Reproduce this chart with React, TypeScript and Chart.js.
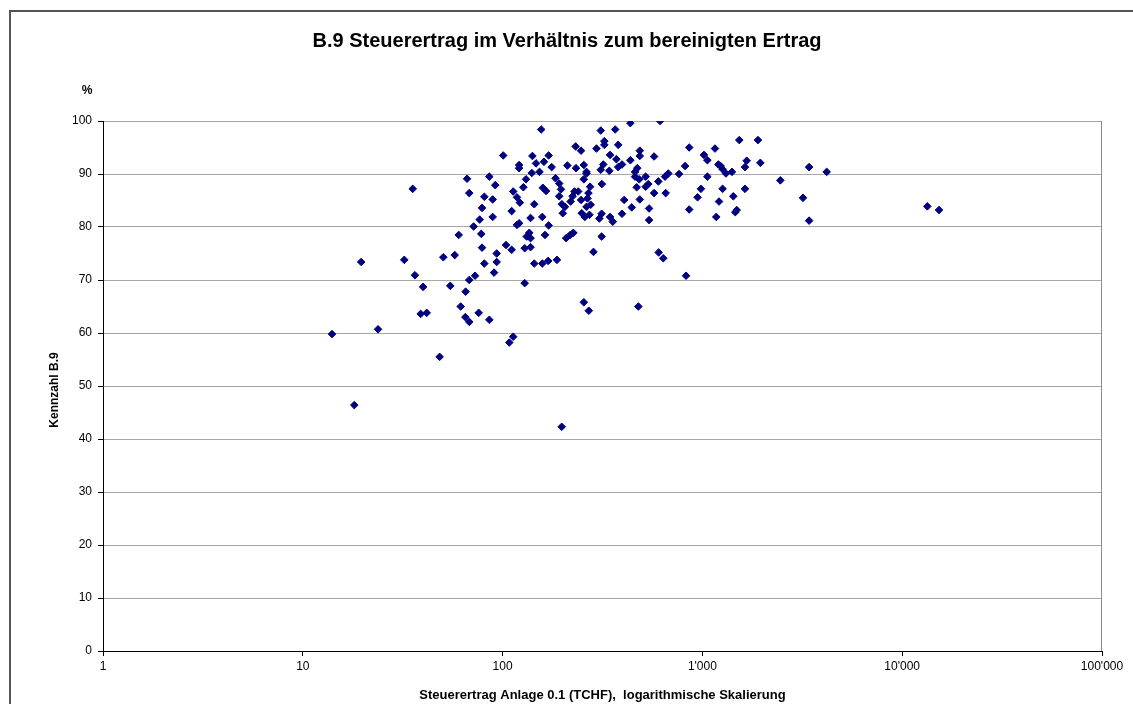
import React, { useEffect, useRef } from 'react';
import { Chart, registerables } from 'chart.js';

Chart.register(...registerables);

const titleText = 'B.9 Steuerertrag im Verhältnis zum bereinigten Ertrag';
const xAxisTitle = 'Steuerertrag Anlage 0.1 (TCHF),  logarithmische Skalierung';
const yAxisTitle = 'Kennzahl B.9';
const yUnit = '%';

const xTickValues = [1, 10, 100, 1000, 10000, 100000];
const xTickLabels = ['1', '10', '100', "1'000", "10'000", "100'000"];

// Steuerertrag (TCHF)
const xValues = [
  100.7, 66.4, 85.8, 91.9, 35.5, 68.1, 81, 89.2, 78.9, 89.2, 76.8, 71.6, 60.3, 78.2, 78.9, 50.5,
  57.6, 32.2, 19.6, 93.4, 81, 93.4, 90.6, 36.4, 72.8, 68.1, 40, 54.7, 65.3, 61.7, 38.9, 41.7,
  75.9, 65.1, 68.1, 85.8, 14.0, 23.8, 48.4, 18.1, 197.6,
  156, 310, 366, 436, 614, 323, 323, 379, 232, 247, 295, 486, 486, 573, 859, 1018, 1059, 1156,
  141, 170, 121, 121, 147, 161, 176, 140, 153, 211, 233, 255, 263, 310, 319, 342, 345, 371,
  379, 396, 436, 460, 472, 460, 483, 520, 469, 520, 536, 602, 650, 675, 764, 819, 573, 655,
  486, 406, 443, 541, 541, 396, 946, 983, 1059, 859, 1173, 604, 637, 828, 478,
  113, 118, 122, 111, 127, 131, 144, 138, 158, 170, 118, 121, 159, 165, 184, 192, 196, 192,
  198, 205, 200, 219, 224, 229, 239, 247, 255, 263, 274, 269, 266, 263, 276, 249, 258, 272,
  305, 313, 314, 345, 356, 313, 285, 255, 270, 104, 111, 129, 132, 136, 138, 138, 163, 144,
  158, 169, 187, 208, 218, 226, 129, 113, 108,
  1530, 1897, 1202, 1234, 1262, 1312, 1406, 1633, 1666, 1950, 1262, 1633, 1211, 1428, 1485,
  1461, 2455, 3420, 4190, 3187, 3420, 13360, 15290,
];

// Kennzahl B.9 (%)
const yValues = [
  93.5, 89.1, 89.5, 87.9, 87.2, 86.4, 85.7, 85.2, 83.6, 81.9, 81.4, 80.1, 78.5, 78.7, 76.1, 74.3,
  74.7, 73.8, 73.4, 75.0, 73.1, 73.4, 71.4, 70.9, 70.8, 70.0, 68.7, 68.9, 67.8, 65.0, 63.6, 63.8,
  63.8, 63.0, 62.1, 62.5, 59.8, 60.7, 55.5, 46.4, 42.3,
  98.4, 98.2, 98.4, 99.6, 100, 96.2, 95.5, 95.5, 95.2, 94.4, 94.8, 94.4, 93.4, 93.3, 95.0, 93.6, 92.6, 94.8,
  93.4, 93.5, 91.7, 91.1, 92.0, 92.3, 91.3, 90.2, 90.4, 91.6, 91.1, 91.7, 90.4, 90.8, 91.8, 90.6, 93.6, 92.8,
  91.3, 91.8, 92.6, 90.4, 91.1, 89.5, 89.0, 89.5, 87.5, 87.6, 88.1, 88.6, 89.5, 90.1, 90.0, 91.5, 86.4, 86.4,
  85.2, 85.1, 83.7, 83.5, 81.3, 82.5, 85.6, 87.2, 89.5, 83.3, 81.9, 75.2, 74.1, 70.8, 65.0,
  86.7, 85.6, 84.6, 83.0, 87.5, 89.0, 84.3, 81.7, 81.9, 80.3, 80.4, 80.7, 87.4, 86.8, 89.2, 88.2, 87.1, 85.8,
  84.3, 83.8, 82.6, 84.8, 85.8, 86.7, 86.7, 85.1, 89.0, 90.1, 87.6, 86.4, 85.4, 83.8, 84.2, 82.6, 81.9, 82.3,
  81.6, 82.5, 88.1, 81.9, 81.0, 78.2, 75.3, 65.8, 64.2, 76.6, 75.7, 76.0, 78.2, 78.9, 77.9, 76.2, 78.5, 73.1,
  73.1, 73.6, 73.8, 77.9, 78.5, 78.9, 69.4, 59.3, 58.2,
  96.4, 96.4, 91.8, 91.5, 90.9, 90.1, 90.4, 91.3, 92.5, 92.1, 87.2, 87.2, 84.8, 85.8, 83.2,
  82.8, 88.8, 91.3, 90.4, 85.5, 81.2, 83.9, 83.2,
];

const FONT = "'Liberation Sans', Arial, Helvetica, sans-serif";

export default function App() {
  const ref = useRef<HTMLCanvasElement>(null);

  useEffect(() => {
    if (!ref.current) return;
    const textPlugin = {
      id: 'extraTexts',
      beforeDatasetsDraw(chart: any) {
        const { ctx, chartArea } = chart;
        ctx.save();
        ctx.strokeStyle = '#8c8c8c';
        ctx.lineWidth = 1;
        ctx.beginPath();
        ctx.moveTo(Math.round(chartArea.right) - 0.5, chartArea.top);
        ctx.lineTo(Math.round(chartArea.right) - 0.5, chartArea.bottom);
        ctx.stroke();
        ctx.restore();
      },
      afterDraw(chart: any) {
        const { ctx } = chart;
        ctx.save();
        ctx.fillStyle = '#000';
        ctx.textAlign = 'center';
        ctx.textBaseline = 'middle';
        ctx.font = `bold 20px ${FONT}`;
        ctx.fillText(titleText, 567, 41);
        ctx.font = `bold 12px ${FONT}`;
        ctx.fillText(yUnit, 87, 91);
        ctx.translate(55, 390);
        ctx.rotate(-Math.PI / 2);
        ctx.fillText(yAxisTitle, 0, 0);
        ctx.restore();
      },
    };

    const chart = new Chart(ref.current, {
      type: 'scatter',
      data: {
        datasets: [
          {
            label: yAxisTitle,
            data: xValues.map((x, i) => ({ x, y: yValues[i] })),
            pointStyle: 'rectRot',
            pointRadius: 3.8,
            pointHoverRadius: 3.8,
            backgroundColor: '#000080',
            borderColor: '#000080',
            borderWidth: 1,
          },
        ],
      },
      options: {
        responsive: false,
        animation: false,
        devicePixelRatio: 1,
        layout: { padding: { left: 8, right: 31, top: 121, bottom: 1 } },
        plugins: {
          legend: { display: false },
          title: { display: false },
          tooltip: { enabled: false },
        },
        scales: {
          x: {
            type: 'logarithmic',
            min: 1,
            max: 100000,
            afterBuildTicks: (s: any) => {
              s.ticks = xTickValues.map((v) => ({ value: v }));
            },
            afterFit: (s: any) => {
              s.height = 52;
            },
            ticks: {
              autoSkip: false,
              maxRotation: 0,
              color: '#000',
              padding: 3,
              font: { family: FONT, size: 12 },
              callback: (v: any) => {
                const i = xTickValues.indexOf(Number(v));
                return i >= 0 ? xTickLabels[i] : '';
              },
            },
            grid: {
              drawOnChartArea: false,
              drawTicks: true,
              tickLength: 5,
              tickColor: '#000',
            },
            border: { color: '#000', width: 1 },
            title: {
              display: true,
              text: xAxisTitle,
              color: '#000',
              font: { family: FONT, size: 13, weight: 'bold' },
              padding: { top: 0, bottom: 0 },
            },
          },
          y: {
            type: 'linear',
            min: 0,
            max: 100,
            afterFit: (s: any) => {
              s.width = 95;
            },
            ticks: {
              stepSize: 10,
              color: '#000',
              padding: 6,
              font: { family: FONT, size: 12 },
            },
            grid: {
              color: '#a6a6a6',
              drawTicks: true,
              tickLength: 5,
              tickColor: '#000',
            },
            border: { color: '#000', width: 1 },
          },
        },
      },
      plugins: [textPlugin],
    });
    return () => chart.destroy();
  }, []);

  return (
    <div
      style={{
        position: 'fixed',
        left: 0,
        top: 0,
        width: 1133,
        height: 704,
        overflow: 'hidden',
        background: '#fff',
      }}
    >
      <canvas
        ref={ref}
        width={1133}
        height={704}
        style={{ display: 'block', width: 1133, height: 704 }}
      />
      <div
        style={{
          position: 'absolute',
          left: 9,
          top: 10,
          width: 1200,
          height: 800,
          border: '2px solid #555',
          pointerEvents: 'none',
        }}
      />
    </div>
  );
}
